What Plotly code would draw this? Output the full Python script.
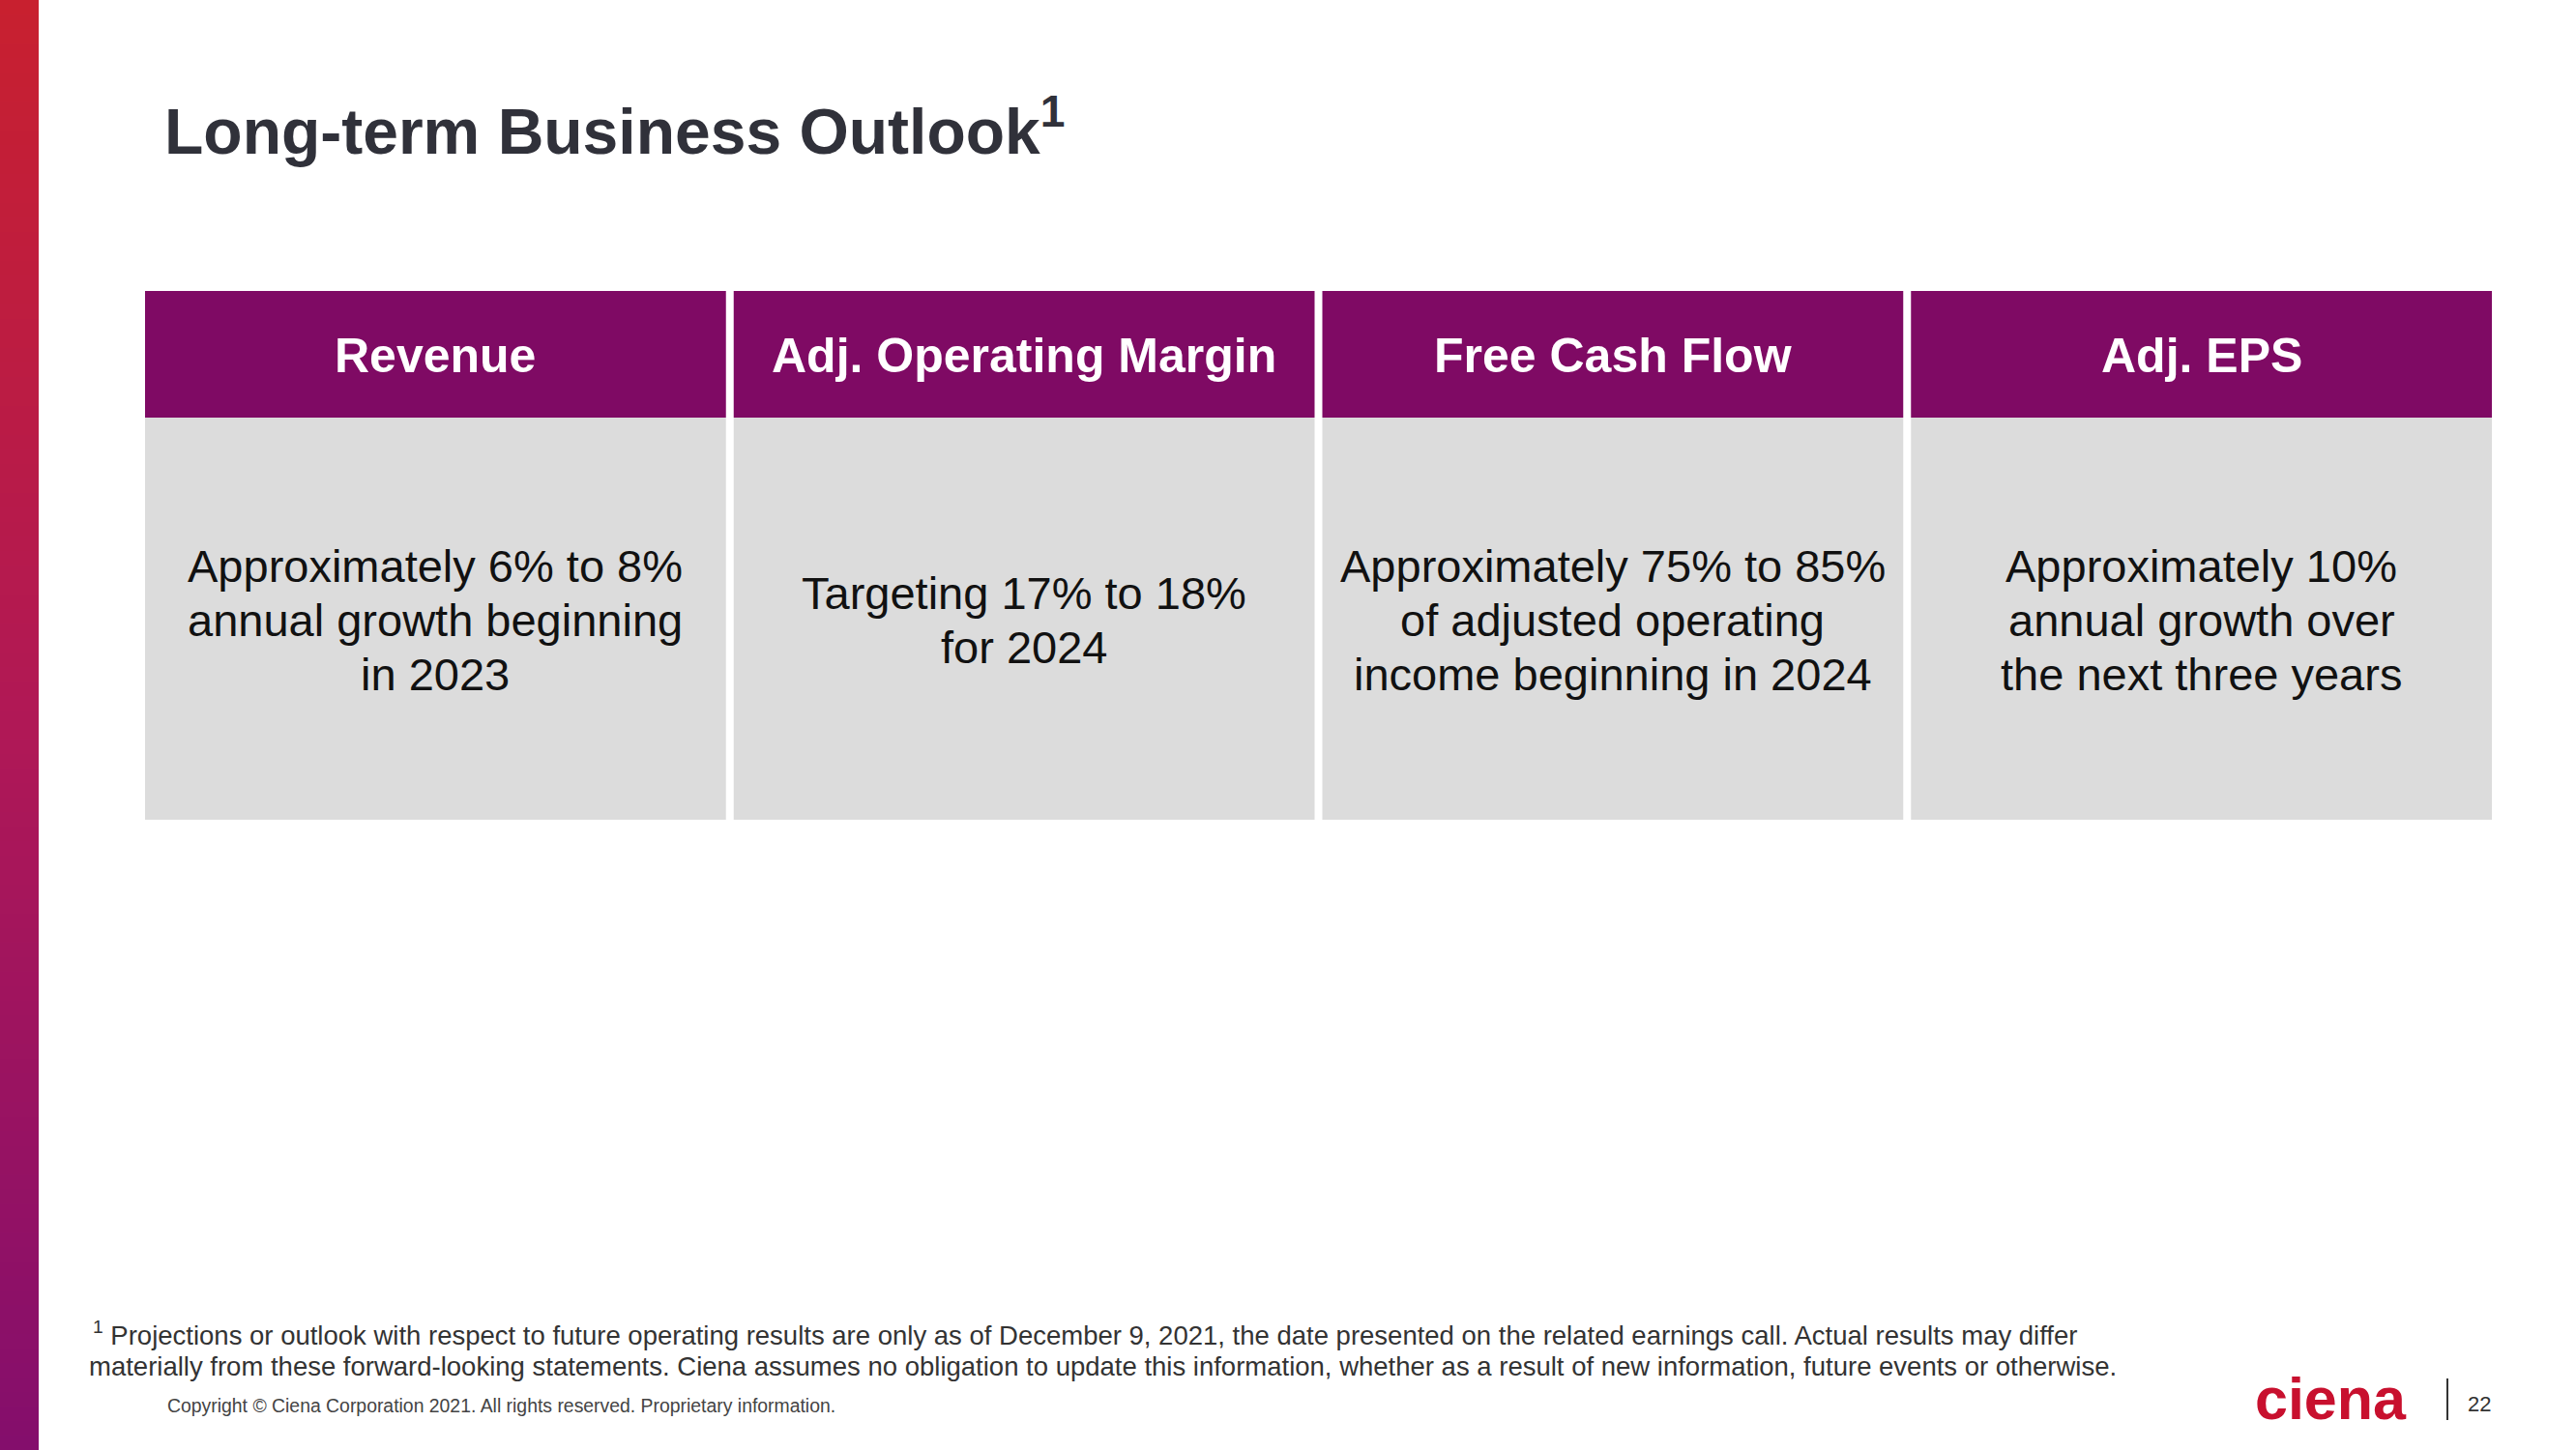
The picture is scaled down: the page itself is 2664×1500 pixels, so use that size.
import plotly.graph_objects as go

W, H = 2664, 1500

# ---- content ----
title = "Long-term Business Outlook"
title_note = "1"
headers = ["Revenue", "Adj. Operating Margin", "Free Cash Flow", "Adj. EPS"]
outlook_lines = [
    ["Approximately 6% to 8%", "annual growth beginning", "in 2023"],
    ["Targeting 17% to 18%", "for 2024"],
    ["Approximately 75% to 85%", "of adjusted operating", "income beginning in 2024"],
    ["Approximately 10%", "annual growth over", "the next three years"],
]
footnote_mark = "1"
footnote_lines = [
    "Projections or outlook with respect to future operating results are only as of December 9, 2021, "
    "the date presented on the related earnings call. Actual results may differ",
    "materially from these forward-looking statements. Ciena assumes no obligation to update this "
    "information, whether as a result of new information, future events or otherwise.",
]
copyright_text = "Copyright © Ciena Corporation 2021. All rights reserved. Proprietary information."
logo_text = "ciena"
page_number = "22"

# ---- style / layout constants ----
FONT = "Liberation Sans, Arial, sans-serif"
PURPLE = "#7F0A64"
GREY = "#DCDCDC"
TITLE_C = "#30313A"
HEADER_TOP, HEADER_H = 301, 131
BODY_TOP, BODY_H = 432, 416
LINE_STEP = 56
TABLE_X0, TABLE_X1 = 146, 2581

fig = go.Figure()

fig.add_trace(go.Bar(
    x=headers, y=[HEADER_H] * len(headers), base=[HEADER_TOP] * len(headers),
    marker=dict(color=PURPLE, line=dict(width=0)), hoverinfo="skip", showlegend=False,
))
fig.add_trace(go.Bar(
    x=headers, y=[BODY_H] * len(headers), base=[BODY_TOP] * len(headers),
    marker=dict(color=GREY, line=dict(width=0)), hoverinfo="skip", showlegend=False,
))

annotations = []
# header labels
for h in headers:
    annotations.append(dict(
        x=h, y=HEADER_TOP + HEADER_H / 2 + 1, xref="x", yref="y", text=f"<b>{h}</b>",
        showarrow=False, xanchor="center", yanchor="middle",
        font=dict(family=FONT, size=50, color="white"),
    ))
# body text
body_center = BODY_TOP + BODY_H / 2
for h, lines in zip(headers, outlook_lines):
    n = len(lines)
    for i, ln in enumerate(lines):
        annotations.append(dict(
            x=h, y=body_center + 1 + (i - (n - 1) / 2) * LINE_STEP, xref="x", yref="y",
            text=ln, showarrow=False, xanchor="center", yanchor="middle",
            font=dict(family=FONT, size=47, color="#111111"),
        ))

def px(xp, yp):
    return xp / W, 1 - yp / H

# title
tx, ty = px(168, 131)
annotations.append(dict(
    x=tx, y=ty, xref="paper", yref="paper", xanchor="left", yanchor="middle",
    text=f"<b>{title}<sup>{title_note}</sup></b>", showarrow=False,
    font=dict(family=FONT, size=66, color=TITLE_C),
))
# footnote
fx, fy = px(94, 1379)
annotations.append(dict(
    x=fx, y=fy, xref="paper", yref="paper", xanchor="left", yanchor="middle",
    text=f"<sup>{footnote_mark}</sup> {footnote_lines[0]}", showarrow=False,
    font=dict(family=FONT, size=27.5, color="#333333"),
))
fx, fy = px(90, 1413)
annotations.append(dict(
    x=fx, y=fy, xref="paper", yref="paper", xanchor="left", yanchor="middle",
    text=footnote_lines[1], showarrow=False,
    font=dict(family=FONT, size=27.5, color="#333333"),
))
# copyright
cx, cy = px(171, 1454)
annotations.append(dict(
    x=cx, y=cy, xref="paper", yref="paper", xanchor="left", yanchor="middle",
    text=copyright_text, showarrow=False,
    font=dict(family=FONT, size=19.4, color="#444444"),
))
# logo
lx, ly = px(2330, 1447)
annotations.append(dict(
    x=lx, y=ly, xref="paper", yref="paper", xanchor="left", yanchor="middle",
    text=f"<b>{logo_text}</b>", showarrow=False,
    font=dict(family=FONT, size=61, color="#C8102E"),
))
# page number
nx, ny = px(2578, 1452)
annotations.append(dict(
    x=nx, y=ny, xref="paper", yref="paper", xanchor="right", yanchor="middle",
    text=page_number, showarrow=False,
    font=dict(family=FONT, size=22, color="#333333"),
))

shapes = []
# left gradient bar (decorative)
stops = [(0.0, (200, 32, 47)), (0.5, (176, 24, 86)), (1.0, (132, 14, 108))]
def lerp_col(t):
    for (t0, c0), (t1, c1) in zip(stops[:-1], stops[1:]):
        if t0 <= t <= t1:
            f = (t - t0) / (t1 - t0)
            return "rgb(%d,%d,%d)" % tuple(round(a + (b - a) * f) for a, b in zip(c0, c1))
    return "rgb(%d,%d,%d)" % stops[-1][1]
N = 100
for k in range(N):
    y0 = 1 - k / N
    y1 = 1 - (k + 1) / N
    shapes.append(dict(type="rect", xref="paper", yref="paper",
                       x0=0, x1=40 / W, y0=y1 - 0.0005, y1=y0,
                       fillcolor=lerp_col((k + 0.5) / N), line=dict(width=0), layer="below"))
# separator by page number
sx, sy0 = px(2531, 1426)
_, sy1 = px(2531, 1469)
shapes.append(dict(type="line", xref="paper", yref="paper", x0=sx, x1=sx, y0=sy0, y1=sy1,
                   line=dict(color="#333333", width=2)))

fig.update_layout(
    width=W, height=H,
    margin=dict(l=0, r=0, t=0, b=0),
    paper_bgcolor="white", plot_bgcolor="white",
    barmode="overlay", bargap=8 / ((TABLE_X1 - TABLE_X0) / 4),
    xaxis=dict(domain=[TABLE_X0 / W, TABLE_X1 / W], range=[-0.5, 3.5], visible=False,
               type="category", fixedrange=True),
    yaxis=dict(domain=[0, 1], range=[H, 0], visible=False, fixedrange=True),
    annotations=annotations, shapes=shapes, showlegend=False,
)

fig.write_html(
    "out.html",
    config={"displayModeBar": False},
    post_script="document.body.style.margin='0';document.body.style.overflow='hidden';",
)
